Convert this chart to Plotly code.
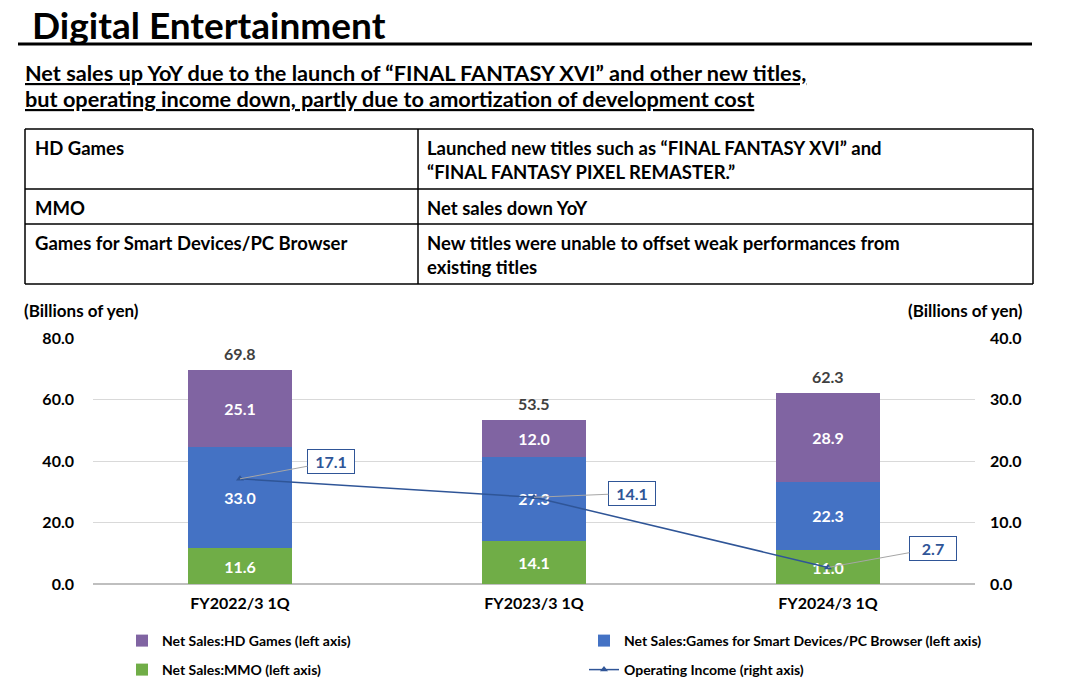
import plotly.graph_objects as go

W, H = 1077, 693
OFF = 8  # page body margin in the browser
FONT = "Lato"

categories = ["FY2022/3 1Q", "FY2023/3 1Q", "FY2024/3 1Q"]
mmo = [11.6, 14.1, 11.0]
smart = [33.0, 27.3, 22.3]
hd = [25.1, 12.0, 28.9]
totals = [69.8, 53.5, 62.3]
op_income = [17.1, 14.1, 2.7]
left_ticks = [0, 20, 40, 60, 80]
right_ticks = [0, 10, 20, 30, 40]

table_rows = [
    ("HD Games", "Launched new titles such as “FINAL FANTASY XVI” and<br>“FINAL FANTASY PIXEL REMASTER.”"),
    ("MMO", "Net sales down YoY"),
    ("Games for Smart Devices/PC Browser", "New titles were unable to offset weak performances from<br>existing titles"),
]

C_HD = "#8064A2"
C_SMART = "#4472C4"
C_MMO = "#70AD47"
C_LINE = "#2F5597"


def px(x):
    return (x - OFF) / W


def py(y):
    return 1 - (y - OFF) / H


fig = go.Figure()

bar_common = dict(
    x=categories,
    width=0.354,
    texttemplate="%{y:.1f}",
    textposition="inside",
    insidetextanchor="middle",
    textangle=0,
    textfont=dict(color="white", size=16, family=FONT, weight="bold"),
    marker_line_width=0,
    cliponaxis=False,
)

fig.add_trace(go.Bar(name="Net Sales:MMO (left axis)", y=mmo, marker_color=C_MMO,
                     legend="legend3", **bar_common))
fig.add_trace(go.Bar(name="Net Sales:Games for Smart Devices/PC Browser (left axis)", y=smart,
                     marker_color=C_SMART, legend="legend2", **bar_common))
fig.add_trace(go.Bar(name="Net Sales:HD Games (left axis)", y=hd, marker_color=C_HD,
                     legend="legend", **bar_common))
fig.add_trace(go.Scatter(name="Operating Income (right axis)", x=categories, y=op_income, yaxis="y2",
                         mode="lines+markers", line=dict(color=C_LINE, width=1.5),
                         marker=dict(symbol="triangle-up", size=7, color=C_LINE),
                         legend="legend4", cliponaxis=False))

annotations = []
# totals above bars
for c, t in zip(categories, totals):
    annotations.append(dict(x=c, y=t, xref="x", yref="y", text=f"<b>{t:.1f}</b>", showarrow=False,
                            yanchor="bottom", yshift=4,
                            font=dict(size=16, color="#404040", family=FONT)))
# operating income boxed labels
offsets = [(91, -17), (98, -4), (105, -19)]
for c, v, (ax, ay) in zip(categories, op_income, offsets):
    annotations.append(dict(x=c, y=v, xref="x", yref="y2", text=f"<b>{v:.1f}</b>", showarrow=True,
                            ax=ax, ay=ay, arrowhead=0, arrowwidth=1, arrowcolor="#A6A6A6",
                            bordercolor=C_LINE, borderwidth=1, borderpad=2, bgcolor="white",
                            width=42,
                            font=dict(size=16, color=C_LINE, family=FONT)))

# titles
annotations.append(dict(x=px(30), y=py(25), xref="paper", yref="paper", text="<b>Digital Entertainment</b>",
                        showarrow=False, xanchor="left", yanchor="middle",
                        font=dict(size=37, color="black", family=FONT)))
annotations.append(dict(x=px(23), y=py(73), xref="paper", yref="paper",
                        text="<b><u>Net sales up YoY due to the launch of “FINAL FANTASY XVI” and other new titles,</u></b>",
                        showarrow=False, xanchor="left", yanchor="middle",
                        font=dict(size=21.7, color="black", family=FONT)))
annotations.append(dict(x=px(23), y=py(99), xref="paper", yref="paper",
                        text="<b><u>but operating income down, partly due to amortization of development cost</u></b>",
                        showarrow=False, xanchor="left", yanchor="middle",
                        font=dict(size=21.7, color="black", family=FONT)))

# table
row_bounds = [129, 189, 224, 284]
for i, (left, right) in enumerate(table_rows):
    top = row_bounds[i]
    annotations.append(dict(x=px(33), y=py(top + 6), xref="paper", yref="paper", text=f"<b>{left}</b>",
                            showarrow=False, xanchor="left", yanchor="top", align="left",
                            font=dict(size=18.5, color="black", family=FONT)))
    annotations.append(dict(x=px(425), y=py(top + 6), xref="paper", yref="paper", text=f"<b>{right}</b>",
                            showarrow=False, xanchor="left", yanchor="top", align="left",
                            font=dict(size=18.5, color="black", family=FONT)))

# axis unit labels
annotations.append(dict(x=px(22), y=py(310), xref="paper", yref="paper", text="<b>(Billions of yen)</b>",
                        showarrow=False, xanchor="left", yanchor="middle",
                        font=dict(size=17, color="black", family=FONT)))
annotations.append(dict(x=px(1025), y=py(310), xref="paper", yref="paper", text="<b>(Billions of yen)</b>",
                        showarrow=False, xanchor="right", yanchor="middle",
                        font=dict(size=17, color="black", family=FONT)))

shapes = []
shapes.append(dict(type="line", xref="paper", yref="paper", x0=px(18), x1=px(1032), y0=py(44), y1=py(44),
                   line=dict(color="black", width=3)))
for yb in row_bounds:
    shapes.append(dict(type="line", xref="paper", yref="paper", x0=px(25), x1=px(1033), y0=py(yb), y1=py(yb),
                       line=dict(color="black", width=1.5)))
for xb in [25, 418, 1033]:
    shapes.append(dict(type="line", xref="paper", yref="paper", x0=px(xb), x1=px(xb), y0=py(129), y1=py(284),
                       line=dict(color="black", width=1.5)))

legend_font = dict(size=14, color="black", family=FONT, weight="bold")


def legend_at(x, y):
    return dict(orientation="h", x=px(x), y=py(y), xanchor="left", yanchor="middle",
                font=legend_font, bgcolor="rgba(0,0,0,0)", borderwidth=0)


fig.update_layout(
    width=W, height=H,
    margin=dict(l=0, r=0, t=0, b=0, autoexpand=False),
    paper_bgcolor="white", plot_bgcolor="white",
    barmode="stack",
    showlegend=True,
    font=dict(family=FONT, color="black"),
    xaxis=dict(domain=[px(93), px(975)], range=[-0.5, 2.5], showgrid=False, ticks="",
               tickfont=dict(size=16, family=FONT, weight="bold", color="black"),
               ticklabelstandoff=8, showline=False, zeroline=False, automargin=False),
    yaxis=dict(domain=[py(584), py(338)], range=[0, 80], tickvals=left_ticks, tickformat=".1f",
               showgrid=True, gridcolor="#D9D9D9", gridwidth=1, zeroline=True, zerolinecolor="#BFBFBF",
               zerolinewidth=2, ticks="", ticklabelstandoff=18, automargin=False,
               tickfont=dict(size=16, family=FONT, weight="bold", color="black")),
    yaxis2=dict(overlaying="y", side="right", range=[0, 40], tickvals=right_ticks, tickformat=".1f",
                showgrid=False, zeroline=False, ticks="", ticklabelstandoff=14, automargin=False,
                tickfont=dict(size=16, family=FONT, weight="bold", color="black")),
    legend=legend_at(122, 641),
    legend2=legend_at(584, 641),
    legend3=legend_at(122, 670),
    legend4=legend_at(584, 670),
    annotations=annotations,
    shapes=shapes,
)

fig.write_html("out.html")
